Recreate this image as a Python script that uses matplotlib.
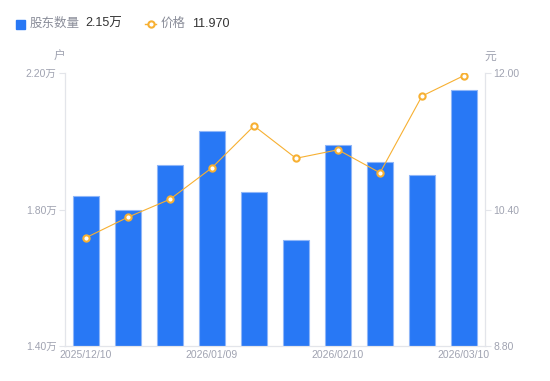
import matplotlib.pyplot as plt
from matplotlib.lines import Line2D

plt.rcParams['font.family'] = ['Liberation Sans', 'Noto Sans CJK SC', 'DejaVu Sans']

# data
dates = ['2025/12/10', '', '', '2026/01/09', '', '', '2026/02/10', '', '', '2026/03/10']
holders = [1.84, 1.80, 1.93, 2.03, 1.85, 1.71, 1.99, 1.94, 1.90, 2.15]  # 万户
price = [10.07, 10.31, 10.52, 10.89, 11.38, 11.00, 11.10, 10.83, 11.73, 11.97]

blue = '#2878f5'
orange = '#f7b032'
grey = '#a0a3b1'
axis_col = '#e3e5ea'

fig = plt.figure(figsize=(5.5, 3.81), dpi=100)
ax = fig.add_axes([65 / 550, 35 / 381, 420 / 550, 273 / 381])
ax2 = ax.twinx()

x = range(len(holders))
ax.bar(x, holders, width=0.6, color=blue, edgecolor='#8fb6f8', linewidth=0.8, zorder=2)
ax2.plot(x, price, color=orange, linewidth=0.8, marker='o', markersize=4.5,
         markerfacecolor='white', markeredgecolor=orange, markeredgewidth=1.5, zorder=3)

ax.set_xlim(-0.5, len(holders) - 0.5)
ax.set_ylim(1.40, 2.20)
ax2.set_ylim(8.80, 12.00)
ax.set_yticks([1.40, 1.80, 2.20])
ax.set_yticklabels(['1.40万', '1.80万', '2.20万'])
ax2.set_yticks([8.80, 10.40, 12.00])
ax2.set_yticklabels(['8.80', '10.40', '12.00'])
ax.set_xticks(list(x))
ax.set_xticklabels(dates)

for a in (ax, ax2):
    for s in a.spines.values():
        s.set_color(axis_col)
    a.spines['top'].set_visible(False)
ax.tick_params(axis='y', colors=axis_col, labelcolor=grey, labelsize=7.5, length=4, pad=2)
ax2.tick_params(axis='y', colors=axis_col, labelcolor=grey, labelsize=7.5, length=4, pad=2)
ax.tick_params(axis='x', length=0, labelcolor=grey, labelsize=7.5, pad=3)
ax.set_zorder(ax2.get_zorder() - 1)
ax.patch.set_visible(True)
ax2.patch.set_visible(False)

fig.text(59 / 550, 1 - 57 / 381, '户', color=grey, fontsize=8.5, ha='center', va='center')
fig.text(490 / 550, 1 - 57 / 381, '元', color=grey, fontsize=8.5, ha='center', va='center')

# legend header
fig.patches.append(plt.Rectangle((16 / 550, 1 - 29 / 381), 9 / 550, 9 / 381,
                                 transform=fig.transFigure, color=blue))
fig.text(30 / 550, 1 - 24 / 381, '股东数量', color='#8a8d99', fontsize=9, va='center')
fig.text(85 / 550, 1 - 24 / 381, '2.15万', color='#333333', fontsize=9, va='center')
fig.lines.append(Line2D([145 / 550, 156 / 550], [1 - 24 / 381] * 2, transform=fig.transFigure,
                        color=orange, linewidth=1))
fig.lines.append(Line2D([150.5 / 550], [1 - 24 / 381], transform=fig.transFigure,
                        color=orange, marker='o', markersize=4.5, markerfacecolor='white',
                        markeredgewidth=1.5, linestyle='none'))
fig.text(161 / 550, 1 - 24 / 381, '价格', color='#8a8d99', fontsize=9, va='center')
fig.text(192 / 550, 1 - 24 / 381, '11.970', color='#333333', fontsize=9, va='center')

fig.savefig('out.png', dpi=100)
